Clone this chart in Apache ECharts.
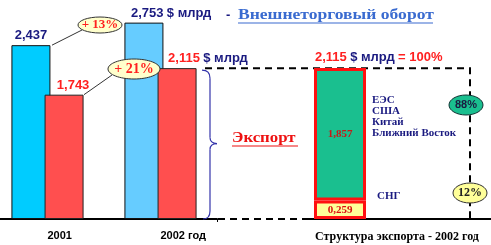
<!DOCTYPE html>
<html><head><meta charset="utf-8">
<script src="https://cdn.jsdelivr.net/npm/echarts@6/dist/echarts.min.js"></script>
<style>html,body{margin:0;padding:0;background:#fff}#c{width:491px;height:245px}</style>
</head><body><div id="c"></div>
<script>
// ---- data ----
const years = ['2001', '2002 год'];
const turnover = [2.437, 2.753];          // Внешнеторговый оборот, $ млрд
const exportVals = [1.743, 2.115];        // Экспорт, $ млрд
const structCats = ['Структура экспорта - 2002 год'];
const structCIS = [0.259];                // СНГ
const structOther = [1.857];              // ЕЭС, США, Китай, Ближний Восток
const otherRegions = ['ЕЭС', 'США', 'Китай', 'Ближний Восток'];
const cisRegion = 'СНГ';
const unitText = '$ млрд';
const titleTurnover = 'Внешнеторговый оборот';
const titleExport = 'Экспорт';

// ---- helpers ----
const fmt = v => v.toFixed(3).replace('.', ',');
const pct = (a, b) => Math.round((a / b - 1) * 100);
const share = (a, b) => Math.round(a / b * 100);
const NAVY = '#1a1a80', RED = '#ff2020';
const SANS = 'Liberation Sans, Arial, sans-serif';
const SERIF = 'Liberation Serif, Times New Roman, serif';
const blueColors = ['#00ccff', '#66ccff'];

const chart = echarts.init(document.getElementById('c'), null, {renderer: 'canvas'});

const option = {
  animation: false,
  backgroundColor: '#fff',
  grid: [
    {left: -9, width: 226, top: 5, bottom: 26, outerBoundsMode: 'none', containLabel: false},
    {left: 313, width: 54, top: 5, bottom: 26, outerBoundsMode: 'none', containLabel: false}
  ],
  xAxis: [
    {type: 'category', gridIndex: 0, data: years,
     axisLine: {show: true, lineStyle: {color: '#000', width: 2}},
     axisTick: {show: true, length: 3, interval: (i) => i === 1, lineStyle: {color: '#000'}},
     axisLabel: {show: true, align: 'left', margin: 11, color: '#000', fontWeight: 'bold',
                 fontFamily: SANS, fontSize: 11},
     splitLine: {show: false}},
    {type: 'category', gridIndex: 1, data: structCats, show: false}
  ],
  yAxis: [
    {type: 'value', gridIndex: 0, min: 0, max: 3, show: false, splitLine: {show: false}},
    {type: 'value', gridIndex: 1, min: 0, max: 3, show: false, splitLine: {show: false}}
  ],
  series: [
    {name: titleTurnover, type: 'bar', xAxisIndex: 0, yAxisIndex: 0,
     barWidth: 39, barGap: '-15%', z: 2,
     data: turnover.map((v, i) => ({
       value: v,
       itemStyle: {color: blueColors[i]},
       label: i === 0
         ? {show: true, position: 'top', distance: 3, formatter: p => fmt(p.value),
            color: NAVY, fontWeight: 'bold', fontSize: 13, fontFamily: SANS}
         : {show: true, position: 'top', distance: 3, align: 'left', offset: [-13, 0],
            formatter: p => '{v|' + fmt(p.value) + '} {u|' + unitText + '}',
            rich: {v: {color: NAVY, fontWeight: 'bold', fontSize: 13, fontFamily: SANS},
                   u: {color: NAVY, fontWeight: 'bold', fontSize: 13, fontFamily: SANS}}}
     })),
     itemStyle: {borderColor: '#111', borderWidth: 1}},
    {name: titleExport, type: 'bar', xAxisIndex: 0, yAxisIndex: 0,
     barWidth: 39, z: 3,
     data: exportVals.map((v, i) => ({
       value: v,
       label: i === 0
         ? {show: true, position: 'top', distance: 3, offset: [9, 0], formatter: p => fmt(p.value),
            color: RED, fontWeight: 'bold', fontSize: 13, fontFamily: SANS}
         : {show: true, position: 'top', distance: 3, align: 'left', offset: [-9, 0],
            formatter: p => '{v|' + fmt(p.value) + '} {u|' + unitText + '}',
            rich: {v: {color: RED, fontWeight: 'bold', fontSize: 13, fontFamily: SANS},
                   u: {color: NAVY, fontWeight: 'bold', fontSize: 13, fontFamily: SANS}}}
     })),
     itemStyle: {color: '#ff4f4f', borderColor: '#222', borderWidth: 1}},
    {name: cisRegion, type: 'bar', xAxisIndex: 1, yAxisIndex: 1, stack: 'str',
     barWidth: 52, z: 3, data: structCIS,
     itemStyle: {color: '#ffff99', borderColor: '#ff1010', borderWidth: 3},
     label: {show: true, position: 'inside', formatter: p => fmt(p.value),
             color: '#dd1010', fontWeight: 'bold', fontSize: 11, fontFamily: SERIF}},
    {name: otherRegions.join(', '), type: 'bar', xAxisIndex: 1, yAxisIndex: 1, stack: 'str',
     barWidth: 52, z: 3, data: structOther,
     itemStyle: {color: '#1abf8f', borderColor: '#ff1010', borderWidth: 3},
     label: {show: true, position: 'inside', formatter: p => fmt(p.value),
             color: '#c81818', fontWeight: 'bold', fontSize: 11, fontFamily: SERIF}}
  ]
};
chart.setOption(option);

// ---- annotations positioned from the data via the axes ----
const px = (x, y) => chart.convertToPixel({gridIndex: 0}, [x, y]);
const y0 = px(0, 0)[1];
const yT1 = px(0, turnover[0])[1];
const yE1 = px(0, exportVals[0])[1];
const yTop = px(1, exportVals[1])[1];
const total = exportVals[1];   // 2002 export = 100%
const mid = (yTop + y0) / 2;

const dash = {stroke: '#000', lineWidth: 2, lineDash: [7, 5], fill: null};
const txt = (x, y, text, font, fill, align, sx) => ({
  type: 'text', z: 20, x: x, y: y, scaleX: sx || 1,
  style: {x: 0, y: 0, text, font, fill, textAlign: align || 'left', textVerticalAlign: 'middle'}
});
const ell = (cx, cy, rx, ry, fill, stroke) => ({
  type: 'ellipse', z: 16, shape: {cx, cy, rx, ry}, style: {fill, stroke, lineWidth: 1}
});
const ln = (x1, y1, x2, y2, stroke, w, z) => ({
  type: 'line', z: z || 15, shape: {x1, y1, x2, y2}, style: {stroke, lineWidth: w || 1}
});
const curve = (x1, y1, cpx1, cpy1, x2, y2, stroke) => ({
  type: 'bezierCurve', z: 15, shape: {x1, y1, cpx1, cpy1, x2, y2}, style: {stroke, lineWidth: 1.2, fill: null}
});
const BR = '#3333aa';

const g = [
  // title of turnover
  txt(226, 15, '-', 'bold 13px ' + SANS, NAVY),
  txt(238, 15, titleTurnover, 'bold 15px ' + SERIF, '#3a6bd0', 'left', 1.17),
  ln(238, 23, 433, 23, '#3a6bd0', 1.2, 20),
  // growth callouts
  ln(52, yT1, 82, 30, '#333', 1),
  ell(100, 25, 22, 8, '#ffffcc', '#333'),
  txt(100, 25, '+ ' + pct(turnover[1], turnover[0]) + '%', 'bold 13px ' + SERIF, RED, 'center'),
  ln(84, yE1, 112, 75, '#333', 1),
  ell(134, 69, 26, 10, '#ffffcc', '#333'),
  txt(134, 69, '+ ' + pct(exportVals[1], exportVals[0]) + '%', 'bold 14px ' + SERIF, RED, 'center'),
  // brace
  curve(202, yTop + 2, 210, yTop + 2, 210, yTop + 10, BR),
  ln(210, yTop + 10, 210, mid - 6, BR, 1.2),
  curve(210, mid - 6, 210, mid, 217, mid, BR),
  curve(217, mid, 210, mid, 210, mid + 6, BR),
  ln(210, mid + 6, 210, y0 - 8, BR, 1.2),
  curve(210, y0 - 8, 210, y0, 203, y0, BR),
  // export caption
  txt(232, 138, titleExport, 'bold 15px ' + SERIF, '#ee1111', 'left', 1.12),
  ln(232, 146, 298, 146, '#ee1111', 1.2, 20),
  // dashed frame
  {type: 'polyline', z: 1, shape: {points: [[205, yTop], [470, yTop], [470, y0]]}, style: dash},
  {type: 'line', z: 1, shape: {x1: 218, y1: y0, x2: 302, y2: y0}, style: dash},
  ln(302, y0, 491, y0, '#000', 2, 1),
  // structure header
  {type: 'text', z: 20, x: 315, y: 57, style: {x: 0, y: 0, textVerticalAlign: 'middle',
    text: '{r|' + fmt(total) + '} {n|' + unitText + '} {r|= 100%}',
    rich: {r: {fill: RED, font: 'bold 13px ' + SANS}, n: {fill: NAVY, font: 'bold 13px ' + SANS}}}},
  // region names
  ...otherRegions.map((r, i) => txt(372, 100 + i * 11, r, 'bold 11px ' + SERIF, NAVY)),
  txt(377, 196, cisRegion, 'bold 11px ' + SERIF, NAVY),
  // share ellipses
  ell(466, 105, 17, 10, '#1abf8f', '#113333'),
  txt(466, 105, share(structOther[0], total) + '%', 'bold 11px ' + SANS, '#1a1a40', 'center'),
  ell(470, 193, 17, 10, '#ffff99', '#333'),
  txt(470, 193, share(structCIS[0], total) + '%', 'bold 12px ' + SERIF, '#222', 'center'),
  // bottom caption of structure
  txt(397, 237, structCats[0], 'bold 12px ' + SERIF, '#000', 'center')
];
chart.setOption({graphic: g});
</script>
</body></html>
